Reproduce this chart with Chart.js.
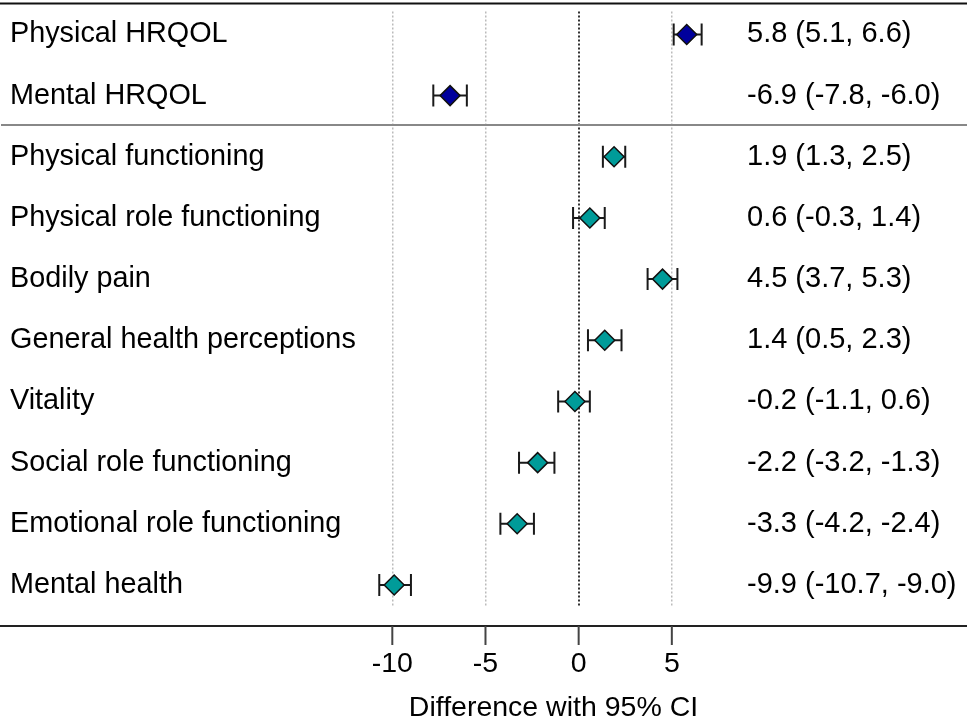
<!DOCTYPE html>
<html>
<head>
<meta charset="utf-8">
<script src="https://cdn.jsdelivr.net/npm/chart.js@4/dist/chart.umd.min.js"></script>
<style>
html,body{margin:0;padding:0;background:#fff;}
#wrap{width:967px;height:720px;position:relative;}
</style>
</head>
<body>
<div id="wrap"><canvas id="c"></canvas></div>
<script>
const categories = ["Physical HRQOL","Mental HRQOL","Physical functioning","Physical role functioning","Bodily pain","General health perceptions","Vitality","Social role functioning","Emotional role functioning","Mental health"];
const estimates = [5.8,-6.9,1.9,0.6,4.5,1.4,-0.2,-2.2,-3.3,-9.9];
const lower = [5.1,-7.8,1.3,-0.3,3.7,0.5,-1.1,-3.2,-4.2,-10.7];
const upper = [6.6,-6.0,2.5,1.4,5.3,2.3,0.6,-1.3,-2.4,-9.0];
const ciLabels = ["5.8 (5.1, 6.6)","-6.9 (-7.8, -6.0)","1.9 (1.3, 2.5)","0.6 (-0.3, 1.4)","4.5 (3.7, 5.3)","1.4 (0.5, 2.3)","-0.2 (-1.1, 0.6)","-2.2 (-3.2, -1.3)","-3.3 (-4.2, -2.4)","-9.9 (-10.7, -9.0)"];
const xTickValues = [-10,-5,0,5];
const summaryCount = 2;

const FONT = "'Liberation Sans', Arial, sans-serif";
const rowIdx = categories.map((_, i) => i);

const summaryData = rowIdx.slice(0, summaryCount).map(i => ({x: estimates[i], y: i}));
const subData = rowIdx.slice(summaryCount).map(i => ({x: estimates[i], y: i}));

const decorPlugin = {
  id: 'decor',
  beforeDatasetsDraw(chart) {
    const {ctx, scales} = chart;
    const xs = scales.x, ys = scales.y;
    ctx.save();
    ctx.strokeStyle = '#1a1a1a';
    ctx.lineWidth = 2;
    rowIdx.forEach(i => {
      const py = ys.getPixelForValue(i);
      const x1 = xs.getPixelForValue(lower[i]);
      const x2 = xs.getPixelForValue(upper[i]);
      ctx.beginPath();
      ctx.moveTo(x1, py); ctx.lineTo(x2, py);
      ctx.moveTo(x1, py - 11); ctx.lineTo(x1, py + 11);
      ctx.moveTo(x2, py - 11); ctx.lineTo(x2, py + 11);
      ctx.stroke();
    });
    ctx.restore();
  },
  afterDraw(chart) {
    const {ctx, chartArea, scales, width} = chart;
    const xs = scales.x, ys = scales.y;
    ctx.save();
    ctx.strokeStyle = '#111';
    ctx.lineWidth = 2;
    ctx.beginPath();
    ctx.moveTo(0, chartArea.top - 8); ctx.lineTo(width, chartArea.top - 8);
    ctx.stroke();
    const sy = Math.round(ys.getPixelForValue(summaryCount - 0.5)) - 1;
    ctx.strokeStyle = '#888';
    ctx.lineWidth = 2;
    ctx.beginPath();
    ctx.moveTo(1, sy); ctx.lineTo(width, sy);
    ctx.stroke();
    const by = chartArea.bottom + 19;
    ctx.strokeStyle = '#222';
    ctx.lineWidth = 2;
    ctx.beginPath();
    ctx.moveTo(0, by); ctx.lineTo(width, by);
    ctx.stroke();
    ctx.strokeStyle = '#444';
    ctx.lineWidth = 2;
    xTickValues.forEach(v => {
      const px = xs.getPixelForValue(v);
      ctx.beginPath();
      ctx.moveTo(px, by); ctx.lineTo(px, by + 19);
      ctx.stroke();
    });
    ctx.restore();
  }
};

const noPadY = (w) => s => { s.width = w; s.paddingTop = 0; s.paddingBottom = 0; };

new Chart(document.getElementById('c'), {
  type: 'scatter',
  data: {
    datasets: [
      {
        data: summaryData,
        pointStyle: 'rectRot',
        pointRadius: 10,
        pointHoverRadius: 10,
        pointBackgroundColor: '#00009C',
        pointBorderColor: '#111',
        pointBorderWidth: 1.5,
        yAxisID: 'y'
      },
      {
        data: subData,
        pointStyle: 'rectRot',
        pointRadius: 10,
        pointHoverRadius: 10,
        pointBackgroundColor: '#009B99',
        pointBorderColor: '#111',
        pointBorderWidth: 1.5,
        yAxisID: 'y'
      }
    ]
  },
  options: {
    responsive: true,
    maintainAspectRatio: false,
    animation: false,
    events: [],
    layout: {padding: {left: 10, top: 10, right: 0, bottom: 0}},
    plugins: {legend: {display: false}, tooltip: {enabled: false}},
    scales: {
      x: {
        type: 'linear',
        position: 'bottom',
        min: -11.09,
        max: 8.39,
        afterBuildTicks: s => { s.ticks = xTickValues.map(v => ({value: v})); },
        afterFit: s => { s.height = 113; s.paddingLeft = 0; s.paddingRight = 0; },
        grid: {
          drawTicks: false,
          color: c => (c.tick && c.tick.value === 0) ? '#333' : '#bbb',
          lineWidth: c => (c.tick && c.tick.value === 0) ? 2 : 1.5
        },
        border: {display: false, dash: [2, 2]},
        ticks: {
          padding: 40,
          color: '#000',
          font: {family: FONT, size: 28.5},
          callback: v => String(v)
        },
        title: {
          display: true,
          text: 'Difference with 95% CI',
          color: '#000',
          font: {family: FONT, size: 28.5, lineHeight: 0.8},
          padding: 0
        }
      },
      y: {
        type: 'linear',
        position: 'left',
        reverse: true,
        min: -0.375,
        max: 9.36,
        afterBuildTicks: s => { s.ticks = rowIdx.map(v => ({value: v})); },
        afterFit: noPadY(362),
        grid: {display: false, drawTicks: false},
        border: {display: false},
        ticks: {
          crossAlign: 'far',
          padding: 0,
          color: '#000',
          font: {family: FONT, size: 28.8},
          callback: v => categories[v] || ''
        }
      },
      y2: {
        type: 'linear',
        position: 'right',
        reverse: true,
        min: -0.375,
        max: 9.36,
        afterBuildTicks: s => { s.ticks = rowIdx.map(v => ({value: v})); },
        afterFit: noPadY(232),
        grid: {display: false, drawTicks: false},
        border: {display: false},
        ticks: {
          crossAlign: 'near',
          padding: 12,
          color: '#000',
          font: {family: FONT, size: 29},
          callback: v => ciLabels[v] || ''
        }
      }
    }
  },
  plugins: [decorPlugin]
});
</script>
</body>
</html>
